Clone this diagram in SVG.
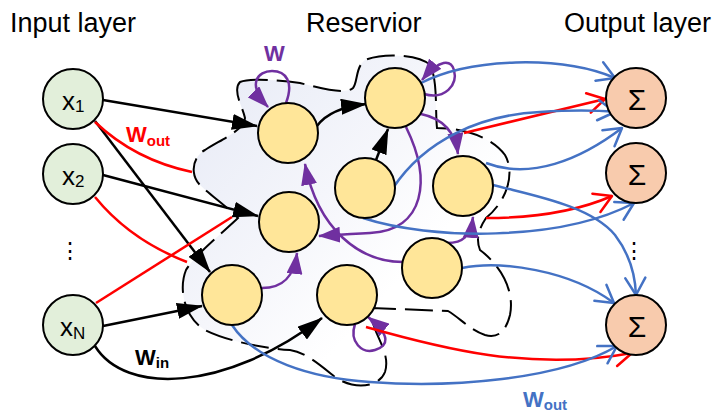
<svg xmlns="http://www.w3.org/2000/svg" width="713" height="414" viewBox="0 0 713 414">
<style>
text{font-family:"Liberation Sans",Arial,sans-serif;fill:#000}
.title{font-size:27px}
.lbl{font-size:26px}
.sub{font-size:17px}
.sig{font-size:30px}
.in{fill:#E2EFDA;stroke:#000;stroke-width:2}
.res{fill:#FFE699;stroke:#000;stroke-width:2}
.out{fill:#F8CBAD;stroke:#000;stroke-width:2}
.k{fill:none;stroke:#000;stroke-width:2.5}
.p{fill:none;stroke:#7030A0;stroke-width:2.5}
.r{fill:none;stroke:#FF0000;stroke-width:2.5}
.b{fill:none;stroke:#4472C4;stroke-width:2.5}
.wl{font-weight:bold;font-size:22px}
.ws{font-weight:bold;font-size:15px}
</style>
<defs>
<linearGradient id="blobg" gradientUnits="userSpaceOnUse" x1="215" y1="110" x2="400" y2="280">
<stop offset="0" stop-color="#EAEDF7"/>
<stop offset="0.55" stop-color="#F5F6FB"/>
<stop offset="1" stop-color="#FFFFFF"/>
</linearGradient>
<marker id="ak" markerUnits="userSpaceOnUse" viewBox="0 0 26 16" markerWidth="26" markerHeight="16" refX="25" refY="8" orient="auto">
<path d="M0,0 L26,8 L0,16 z" fill="#000"/>
</marker>
<marker id="ap" markerUnits="userSpaceOnUse" viewBox="0 0 22 16" markerWidth="22" markerHeight="16" refX="21" refY="8" orient="auto">
<path d="M0,0 L22,8 L0,16 z" fill="#7030A0"/>
</marker>
<marker id="ar" markerUnits="userSpaceOnUse" viewBox="-2 -2 22 24" markerWidth="22" markerHeight="24" refX="17" refY="10" orient="auto">
<path d="M0,0 L17,10 L0,20" fill="none" stroke="#FF0000" stroke-width="2.5" stroke-linecap="round" stroke-linejoin="round"/>
</marker>
<marker id="ab" markerUnits="userSpaceOnUse" viewBox="-2 -2 22 24" markerWidth="22" markerHeight="24" refX="17" refY="10" orient="auto">
<path d="M0,0 L17,10 L0,20" fill="none" stroke="#4472C4" stroke-width="2.5" stroke-linecap="round" stroke-linejoin="round"/>
</marker>
</defs>

<g id="titles">
<text class="title" x="10" y="32">Input layer</text>
<text class="title" x="306" y="32">Reservior</text>
<text class="title" x="564" y="32">Output layer</text>
</g>

<g id="reservoir-boundary">
<path d="M240,82 C250,78 280,80 300,83 C320,88 345,95 353,88 C358,82 355,68 365,60 C385,52 420,55 430,65 C438,80 435,110 437,128 C460,128 490,135 505,155 C515,172 508,200 486,218 C478,230 476,240 480,250 C500,265 515,290 510,315 C505,335 495,338 485,335 C470,330 460,318 448,311 L372,308 C368,330 392,350 385,372 C378,390 350,388 335,377 C320,365 305,352 290,350 C260,348 225,340 205,330 C185,318 178,290 186,270 C195,255 220,235 238,218 C225,205 210,195 200,185 C190,175 192,157 205,150 C220,140 245,130 245,118 C242,105 232,90 240,82 Z" fill="url(#blobg)" stroke="#000" stroke-width="2" stroke-dasharray="28 9"/>
</g>

<g id="connectors">
<path class="k" d="M103,100 L257,126" marker-end="url(#ak)"/>
<path class="k" d="M95,121 L210,272" marker-end="url(#ak)"/>
<path class="k" d="M103,175 L258,216" marker-end="url(#ak)"/>
<path class="k" d="M103,326 L202,306" marker-end="url(#ak)"/>
<path class="k" d="M95,346 C125,395 225,392 322,318" marker-end="url(#ak)"/>
<path class="k" d="M317,126 Q330,108 366,104" marker-end="url(#ak)"/>
<path class="k" d="M376,160 L388,129" marker-end="url(#ak)"/>
<path class="p" d="M286,103 C294,82 286,71 272,71 C258,71 246,84 268,107" marker-end="url(#ap)"/>
<path class="p" d="M424,94 C445,100 458,85 454,70 C451,60 440,58 422,80" marker-end="url(#ap)"/>
<path class="p" d="M421,114 C440,118 455,130 458,154" marker-end="url(#ap)"/>
<path class="p" d="M406,127 C432,180 425,230 370,233 C350,234 335,235 319,236" marker-end="url(#ap)"/>
<path class="p" d="M403,262 C360,262 318,230 305,164" marker-end="url(#ap)"/>
<path class="p" d="M262,288 C282,288 294,278 297,253" marker-end="url(#ap)"/>
<path class="p" d="M447,243 C463,243 471,236 473,217" marker-end="url(#ap)"/>
<path class="p" d="M355,324 C349,342 362,354 375,350 C388,346 392,336 368,317" marker-end="url(#ap)"/>
<path class="r" d="M95,122 Q135,160 192,172"/>
<path class="r" d="M95,197 Q130,240 187,262"/>
<path class="r" d="M96,303 L232,217"/>
<path class="r" d="M366,327 C440,348 530,372 632,353" marker-end="url(#ar)"/>
<path class="r" d="M486,218 C540,218 580,210 612,196" marker-end="url(#ar)"/>
<path class="r" d="M464,133 L605,99" marker-end="url(#ar)"/>
<path class="b" d="M421,83 C470,58 560,55 615,78" marker-end="url(#ab)"/>
<path class="b" d="M393,188 C425,140 480,115 540,112 C570,110 595,110 615,112" marker-end="url(#ab)"/>
<path class="b" d="M486,163 C530,180 580,160 622,128" marker-end="url(#ab)"/>
<path class="b" d="M363,218 C430,240 560,242 634,203" marker-end="url(#ab)"/>
<path class="b" d="M493,185 C530,195 590,205 615,235 C628,252 635,270 636,295" marker-end="url(#ab)"/>
<path class="b" d="M462,268 C500,260 570,270 614,303" marker-end="url(#ab)"/>
<path class="b" d="M232,325 C255,360 310,378 370,382 C450,388 560,380 617,346" marker-end="url(#ab)"/>
</g>

<g id="input-x1"><circle class="in" cx="73" cy="99" r="30"/><text class="lbl" x="62" y="110">x<tspan class="sub" dy="2">1</tspan></text></g>
<g id="input-x2"><circle class="in" cx="73" cy="174" r="30"/><text class="lbl" x="62" y="185">x<tspan class="sub" dy="2">2</tspan></text></g>
<g id="input-dots"><text x="70" y="258" font-size="22" text-anchor="middle">⋮</text></g>
<g id="input-xN"><circle class="in" cx="73" cy="325" r="30"/><text class="lbl" x="60" y="336">x<tspan class="sub" dy="3">N</tspan></text></g>

<g id="res-A"><circle class="res" cx="288" cy="133" r="30"/></g>
<g id="res-B"><circle class="res" cx="395" cy="98" r="30"/></g>
<g id="res-C"><circle class="res" cx="365" cy="188" r="30"/></g>
<g id="res-D"><circle class="res" cx="463" cy="186" r="30"/></g>
<g id="res-E"><circle class="res" cx="289" cy="222" r="30"/></g>
<g id="res-F"><circle class="res" cx="232" cy="295" r="30"/></g>
<g id="res-G"><circle class="res" cx="347" cy="295" r="30"/></g>
<g id="res-H"><circle class="res" cx="432" cy="268" r="30"/></g>

<g id="output-1"><circle class="out" cx="636" cy="98" r="30"/><text class="sig" x="637" y="110" text-anchor="middle">Σ</text></g>
<g id="output-2"><circle class="out" cx="636" cy="173" r="30"/><text class="sig" x="637" y="185" text-anchor="middle">Σ</text></g>
<g id="output-dots"><text x="634" y="258" font-size="22" text-anchor="middle">⋮</text></g>
<g id="output-N"><circle class="out" cx="636" cy="325" r="30"/><text class="sig" x="637" y="337" text-anchor="middle">Σ</text></g>

<g id="labels">
<text class="wl" x="264" y="61" style="fill:#7030A0">W</text>
<text class="wl" x="126" y="142" style="fill:#FF0000">W<tspan class="ws" dy="4">out</tspan></text>
<text class="wl" x="135" y="365" style="fill:#000">W<tspan class="ws" dy="3">in</tspan></text>
<text class="wl" x="523" y="407" style="fill:#4472C4">W<tspan class="ws" dy="3">out</tspan></text>
</g>
</svg>
